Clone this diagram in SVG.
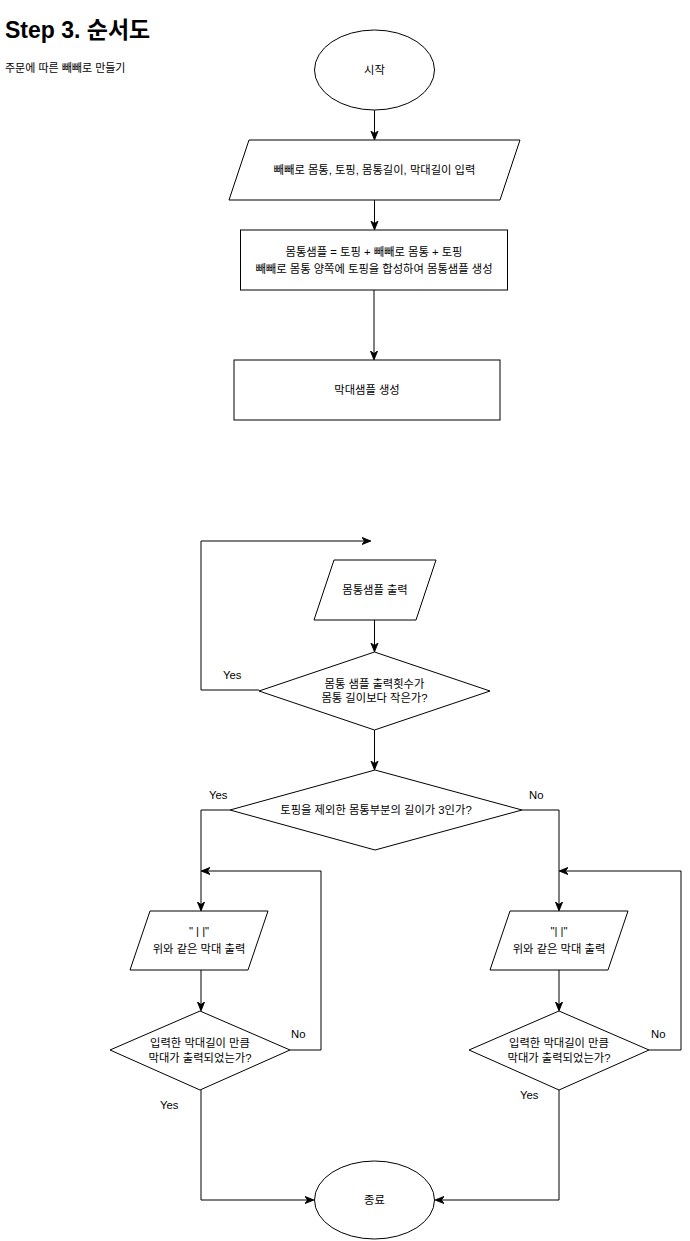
<svg xmlns="http://www.w3.org/2000/svg" width="690" height="1241" viewBox="0 0 690 1241">
<style>
.s{fill:#fff;stroke:#000;stroke-width:1}
.t{font-family:"Liberation Sans","Noto Sans CJK KR",sans-serif;font-size:11.3px;fill:#000;text-anchor:middle;dominant-baseline:central}
.l{font-family:"Liberation Sans","Noto Sans CJK KR",sans-serif;font-size:11.3px;fill:#000;text-anchor:start;dominant-baseline:central}
.c{fill:none;stroke:#000;stroke-width:1}
</style>
<defs>
<marker id="a" viewBox="0 0 10 10" refX="9" refY="5" markerWidth="9" markerHeight="9" markerUnits="userSpaceOnUse" orient="auto">
<path d="M0,1 L10,5 L0,9 L3,5 z" fill="#000" stroke="#000" stroke-width="1"/>
</marker>
</defs>
<rect width="690" height="1241" fill="#fff"/>
<text x="5" y="38" style="font-family:'Liberation Sans','Noto Sans CJK KR',sans-serif;font-size:23px;font-weight:bold">Step 3. 순서도</text>
<text x="5" y="72" style="font-family:'Liberation Sans','Noto Sans CJK KR',sans-serif;font-size:11px">주문에 따른 빼빼로 만들기</text>

<g id="connectors">
<path class="c" d="M374.5,110 L374.5,139" marker-end="url(#a)"/>
<path class="c" d="M374.5,200 L374.5,229" marker-end="url(#a)"/>
<path class="c" d="M374,290 L374,359" marker-end="url(#a)"/>
<path class="c" d="M259,690 L201,690 L201,541 L370,541" marker-end="url(#a)"/>
<path class="c" d="M374.5,620 L374.5,651" marker-end="url(#a)"/>
<path class="c" d="M374.5,730 L374.5,769" marker-end="url(#a)"/>
<path class="c" d="M230,810 L201,810 L201,910" marker-end="url(#a)"/>
<path class="c" d="M522,810 L559,810 L559,910" marker-end="url(#a)"/>
<path class="c" d="M201,970 L201,1010" marker-end="url(#a)"/>
<path class="c" d="M559,970 L559,1010" marker-end="url(#a)"/>
<path class="c" d="M290,1050 L321,1050 L321,871 L202,871" marker-end="url(#a)"/>
<path class="c" d="M649,1050 L681,1050 L681,871 L560,871" marker-end="url(#a)"/>
<path class="c" d="M201,1090 L201,1200 L313,1200" marker-end="url(#a)"/>
<path class="c" d="M559,1090 L559,1200 L436,1200" marker-end="url(#a)"/>
<text class="l" x="223" y="675">Yes</text>
<text class="l" x="209" y="795">Yes</text>
<text class="l" x="529" y="795">No</text>
<text class="l" x="291" y="1034">No</text>
<text class="l" x="651" y="1034">No</text>
<text class="l" x="160" y="1105">Yes</text>
<text class="l" x="520" y="1095">Yes</text>
</g>

<g id="start">
<ellipse class="s" cx="374.5" cy="70" rx="60" ry="40"/>
<text class="t" x="374.5" y="70">시작</text>
</g>
<g id="input">
<polygon class="s" points="249,140 520,140 500,200 229,200"/>
<text class="t" x="374.5" y="170">빼빼로 몸통, 토핑, 몸통길이, 막대길이 입력</text>
</g>
<g id="body-sample">
<rect class="s" x="240.5" y="230" width="267" height="60"/>
<text class="t" x="374" y="252">몸통샘플 = 토핑 + 빼빼로 몸통 + 토핑</text>
<text class="t" x="374" y="269">빼빼로 몸통 양쪽에 토핑을 합성하여 몸통샘플 생성</text>
</g>
<g id="stick-sample">
<rect class="s" x="234" y="360" width="266" height="60"/>
<text class="t" x="367" y="390">막대샘플 생성</text>
</g>
<g id="print-body">
<polygon class="s" points="334,560 436,560 416,620 314,620"/>
<text class="t" x="375" y="590">몸통샘플 출력</text>
</g>
<g id="decision-count">
<polygon class="s" points="374.5,652 490,691 374.5,730 259,691"/>
<text class="t" x="374.5" y="684">몸통 샘플 출력횟수가</text>
<text class="t" x="374.5" y="698">몸통 길이보다 작은가?</text>
</g>
<g id="decision-length">
<polygon class="s" points="375,770 522,810 375,850 230,810"/>
<text class="t" x="376" y="810">토핑을 제외한 몸통부분의 길이가 3인가?</text>
</g>
<g id="print-stick-left">
<polygon class="s" points="150,911 268,911 248,970 130,970"/>
<text class="t" x="199" y="931">" | |"</text>
<text class="t" x="199" y="949">위와 같은 막대 출력</text>
</g>
<g id="print-stick-right">
<polygon class="s" points="510,911 628,911 608,970 490,970"/>
<text class="t" x="559" y="931">"| |"</text>
<text class="t" x="559" y="949">위와 같은 막대 출력</text>
</g>
<g id="decision-stick-left">
<polygon class="s" points="200,1011 290,1050 200,1090 110,1050"/>
<text class="t" x="200" y="1043">입력한 막대길이 만큼</text>
<text class="t" x="200" y="1058">막대가 출력되었는가?</text>
</g>
<g id="decision-stick-right">
<polygon class="s" points="559,1011 649,1050 559,1090 469,1050"/>
<text class="t" x="559" y="1043">입력한 막대길이 만큼</text>
<text class="t" x="559" y="1058">막대가 출력되었는가?</text>
</g>
<g id="end">
<ellipse class="s" cx="374.5" cy="1200" rx="60" ry="39"/>
<text class="t" x="374.5" y="1200">종료</text>
</g>
</svg>
